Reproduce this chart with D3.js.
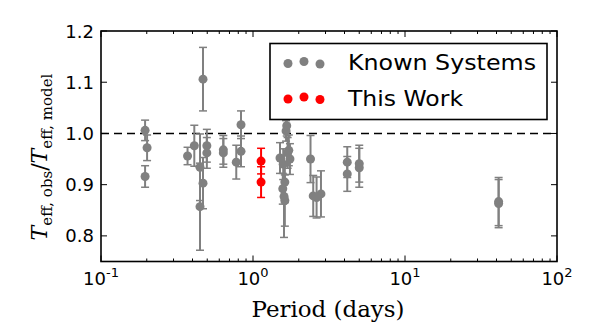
<!DOCTYPE html>
<html>
<head>
<meta charset="utf-8">
<script src="https://cdnjs.cloudflare.com/ajax/libs/d3/7.8.5/d3.min.js"></script>
<style>
  body { margin: 0; background: #fff; }
  svg { display: block; }
</style>
</head>
<body>
<svg id="chart" width="598" height="324"></svg>
<script>
// known systems: period (days), Teff ratio, error
const knownPeriod = [0.195, 0.201, 0.195, 0.371, 0.411, 0.469, 0.497, 0.497, 0.448, 0.448, 0.469,
  0.638, 0.638, 0.834, 0.834, 0.776, 1.667, 1.65, 1.505, 1.75, 1.58, 1.69, 1.57, 1.62, 1.62, 1.6,
  1.72, 2.39, 2.49, 2.62, 2.80, 4.17, 4.17, 5.0, 5.0, 41.3, 41.3];
const knownRatio = [1.006, 0.972, 0.916, 0.956, 0.976, 1.106, 0.976, 0.962, 0.934, 0.857, 0.903,
  0.968, 0.962, 1.017, 0.965, 0.944, 1.015, 1.005, 0.952, 0.95, 0.94, 0.962, 0.892, 0.869, 0.905, 0.877,
  0.967, 0.95, 0.878, 0.875, 0.882, 0.944, 0.921, 0.941, 0.933, 0.863, 0.867];
const knownErr = [0.02, 0.025, 0.021, 0.017, 0.04, 0.062, 0.032, 0.03, 0.065, 0.085, 0.05,
  0.028, 0.028, 0.027, 0.03, 0.033, 0.02, 0.02, 0.03, 0.03, 0.03, 0.03, 0.03, 0.05, 0.04, 0.08,
  0.03, 0.046, 0.04, 0.04, 0.045, 0.03, 0.034, 0.036, 0.038, 0.047, 0.047];

// this work
const newPeriod = [1.13, 1.13];
const newRatio = [0.946, 0.905];
const newErr = [0.025, 0.03];

const yTicks = [0.8, 0.9, 1.0, 1.1, 1.2];
const xTicks = [0.1, 1, 10, 100];
const xTickExp = ["-1", "0", "1", "2"];
const legendLabels = ["Known Systems", "This Work"];
const legendWidths = [188, 115];

const W = 598, H = 324;
const margin = {left: 101, right: 41, top: 31, bottom: 62.5};
const grey = "#808080", red = "#ff0000";

const svg = d3.select("#chart");

const x = d3.scaleLog().domain([0.1, 100]).range([margin.left, W - margin.right]);
const y = d3.scaleLinear().domain([0.75, 1.2]).range([H - margin.bottom, margin.top]);

function toRows(p, r, e) {
  return p.map((d, i) => ({p: d, r: r[i], e: e[i]}));
}

// reference line at 1
svg.append("line")
  .attr("x1", x(0.1)).attr("x2", x(100))
  .attr("y1", y(1)).attr("y2", y(1))
  .style("stroke", "#000")
  .style("stroke-width", 1.6)
  .style("stroke-dasharray", "8,5");

function drawSeries(rows, color) {
  const g = svg.append("g");
  const cap = 4;
  rows.forEach(d => {
    g.append("line")
      .attr("x1", x(d.p)).attr("x2", x(d.p))
      .attr("y1", y(d.r - d.e)).attr("y2", y(d.r + d.e))
      .style("stroke", color).style("stroke-width", 2);
    [d.r - d.e, d.r + d.e].forEach(v => {
      g.append("line")
        .attr("x1", x(d.p) - cap).attr("x2", x(d.p) + cap)
        .attr("y1", y(v)).attr("y2", y(v))
        .style("stroke", color).style("stroke-width", 1.5);
    });
  });
  g.selectAll("circle")
    .data(rows)
    .enter()
    .append("circle")
    .attr("cx", d => x(d.p))
    .attr("cy", d => y(d.r))
    .attr("r", 4.5)
    .style("fill", color);
}

drawSeries(toRows(knownPeriod, knownRatio, knownErr), grey);
drawSeries(toRows(newPeriod, newRatio, newErr), red);

// ticks (inward, all four sides)
const minor = [];
[0.1, 1, 10].forEach(b => { for (let k = 2; k <= 9; k++) minor.push(b * k); });
const tk = svg.append("g").style("stroke", "#000").style("stroke-width", 1);
xTicks.forEach(t => {
  tk.append("line").attr("x1", x(t)).attr("x2", x(t)).attr("y1", y(0.75)).attr("y2", y(0.75) - 6);
  tk.append("line").attr("x1", x(t)).attr("x2", x(t)).attr("y1", y(1.2)).attr("y2", y(1.2) + 6);
});
minor.forEach(t => {
  tk.append("line").attr("x1", x(t)).attr("x2", x(t)).attr("y1", y(0.75)).attr("y2", y(0.75) - 3);
  tk.append("line").attr("x1", x(t)).attr("x2", x(t)).attr("y1", y(1.2)).attr("y2", y(1.2) + 3);
});
yTicks.forEach(t => {
  tk.append("line").attr("x1", x(0.1)).attr("x2", x(0.1) + 6).attr("y1", y(t)).attr("y2", y(t));
  tk.append("line").attr("x1", x(100)).attr("x2", x(100) - 6).attr("y1", y(t)).attr("y2", y(t));
});

// frame
svg.append("rect")
  .attr("x", x(0.1)).attr("y", y(1.2))
  .attr("width", x(100) - x(0.1)).attr("height", y(0.75) - y(1.2))
  .style("fill", "none").style("stroke", "#000").style("stroke-width", 1.6);

// tick labels
const font = "'DejaVu Sans', sans-serif";
svg.append("g").selectAll("text")
  .data(yTicks)
  .enter()
  .append("text")
  .attr("x", x(0.1) - 7)
  .attr("y", d => y(d) + 6.5)
  .attr("text-anchor", "end")
  .style("font-family", font)
  .style("font-size", "18px")
  .text(d => d.toFixed(1));

const xl = svg.append("g").selectAll("text")
  .data(xTicks)
  .enter()
  .append("text")
  .attr("x", d => x(d))
  .attr("y", 285)
  .attr("text-anchor", "middle")
  .style("font-family", font)
  .style("font-size", "18px");
xl.append("tspan").text("10");
xl.append("tspan").attr("dy", -8).style("font-size", "13px").text((d, i) => xTickExp[i]);

// axis labels
const serif = "'DejaVu Serif', serif";
svg.append("text")
  .attr("x", 328)
  .attr("y", 317)
  .attr("text-anchor", "middle")
  .attr("textLength", 153)
  .attr("lengthAdjust", "spacingAndGlyphs")
  .style("font-family", serif)
  .style("font-size", "22px")
  .text("Period (days)");

const yl = svg.append("text")
  .attr("transform", "translate(47,157) rotate(-90)")
  .attr("text-anchor", "middle")
  .style("font-family", serif)
  .style("font-size", "22px");
yl.append("tspan").style("font-style", "italic").text("T");
yl.append("tspan").attr("dy", 5).style("font-size", "15px").text("eff, obs");
yl.append("tspan").attr("dy", -5).text("/");
yl.append("tspan").style("font-style", "italic").text("T");
yl.append("tspan").attr("dy", 5).style("font-size", "15px").text("eff, model");

// legend
const lg = svg.append("g");
lg.append("rect")
  .attr("x", 270).attr("y", 43.5).attr("width", 277).attr("height", 76)
  .style("fill", "#fff").style("stroke", "#000").style("stroke-width", 1.6);
const jitter = [1.5, -0.5, 2];
[grey, red].forEach((c, i) => {
  const cy = 62 + i * 35.5;
  [288, 304, 320].forEach((cx, j) => {
    lg.append("circle").attr("cx", cx).attr("cy", cy + jitter[j]).attr("r", 4.5).style("fill", c);
  });
  lg.append("text")
    .attr("x", 348).attr("y", cy + 8)
    .attr("textLength", legendWidths[i])
    .attr("lengthAdjust", "spacingAndGlyphs")
    .style("font-family", font)
    .style("font-size", "22px")
    .text(legendLabels[i]);
});
</script>
</body>
</html>
